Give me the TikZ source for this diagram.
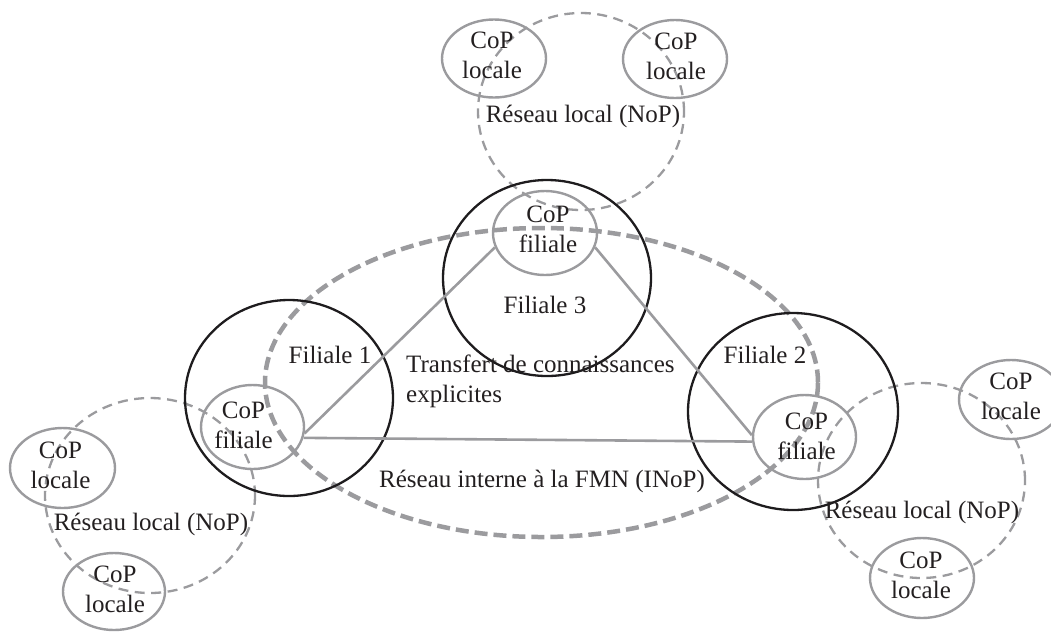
\documentclass[tikz,border=0pt]{standalone}
\usepackage{fontspec}
\setmainfont{Liberation Serif}
\usetikzlibrary{shapes.geometric,calc}
\definecolor{grayline}{RGB}{155,155,158}
\definecolor{blackline}{RGB}{30,28,30}
\definecolor{txtcol}{RGB}{35,31,32}
\tikzset{
  txt/.style={font=\fontsize{25pt}{30pt}\selectfont, text=txtcol, inner sep=0pt, align=center},
  cop/.style={ellipse, draw=grayline, line width=2.4pt, inner sep=0pt, minimum width=104pt, minimum height=80pt},
  filiale/.style={ellipse, draw=blackline, line width=2.3pt, inner sep=0pt},
  nop/.style={ellipse, draw=grayline, line width=2.3pt, dash pattern=on 10pt off 6.5pt, inner sep=0pt},
  inop/.style={ellipse, draw=grayline, line width=4.5pt, dash pattern=on 13pt off 6pt, inner sep=0pt},
  link/.style={draw=grayline, line width=2.6pt}
}
\begin{document}
\begin{tikzpicture}[x=1pt,y=-1pt]
\clip (0,0) rectangle (1051,633);
% big internal network
\node[inop, minimum width=553pt, minimum height=309pt] (inop) at (541.5,382.5) {};
% local networks
\node[nop, minimum width=206pt, minimum height=197pt] (noptop) at (581,111.5) {};
\node[nop, minimum width=210pt, minimum height=195pt] (nopleft) at (150,495.5) {};
\node[nop, minimum width=207pt, minimum height=195pt] (nopright) at (921.5,480.5) {};
% subsidiaries
\node[filiale, minimum width=208pt, minimum height=196pt] (f3) at (547,278) {};
\node[filiale, minimum width=208pt, minimum height=196pt] (f1) at (289,398) {};
\node[filiale, minimum width=210pt, minimum height=197pt] (f2) at (793,411.5) {};
% CoP filiale
\node[cop, minimum width=104pt, minimum height=84pt] (ct) at (545,233) {};
\node[cop, minimum width=103pt, minimum height=84pt] (cf1) at (252.5,427) {};
\node[cop, minimum width=103pt, minimum height=84pt] (cf2) at (804.5,437) {};
% CoP locale
\node[cop, minimum height=78pt] (lt1) at (494,58.5) {};
\node[cop, minimum height=78pt] (lt2) at (675,59) {};
\node[cop, minimum width=105pt] (ll1) at (62.5,468) {};
\node[cop, minimum width=102pt, minimum height=77pt] (ll2) at (114,591.5) {};
\node[cop, minimum height=79pt] (lr1) at (1011,399.5) {};
\node[cop] (lr2) at (922,578) {};
% links
\draw[link] (cf1.-7) -- (ct.196);
\draw[link] (ct.-16) -- (cf2.178);
\draw[link] (cf1.-12) -- (cf2.185);
% texts
\node[txt] (tct) at ($(ct)+(3,-4)$) {CoP\\filiale};
\node[txt] (tcf1) at ($(cf1)+(-9,-2)$) {CoP\\filiale};
\node[txt] (tcf2) at ($(cf2)+(2,-1)$) {CoP\\filiale};
\node[txt] (tlt1) at ($(lt1)+(-2,-3)$) {CoP\\locale};
\node[txt] (tlt2) at ($(lt2)+(1,-3)$) {CoP\\locale};
\node[txt] (tll1) at ($(ll1)+(-2,-3)$) {CoP\\locale};
\node[txt] (tll2) at ($(ll2)+(1,-2)$) {CoP\\locale};
\node[txt] (tlr1) at ($(lr1)+(0,-3)$) {CoP\\locale};
\node[txt] (tlr2) at ($(lr2)+(-1,-3)$) {CoP\\locale};
\node[txt] (lf3) at (545,305) {Filiale 3};
\node[txt] (lf1) at (330,355) {Filiale 1};
\node[txt] (lf2) at (765,355) {Filiale 2};
\node[txt] (lnopt) at (583,116) {Réseau local (NoP)};
\node[txt] (lnopl) at (151,524) {Réseau local (NoP)};
\node[txt] (lnopr) at (922,512) {Réseau local (NoP)};
\node[txt] (linop) at (542,481) {Réseau interne à la FMN (INoP)};
\node[txt, align=left, anchor=base west] (ltr) at (406,402) {Transfert de connaissances\\explicites};
\end{tikzpicture}
\end{document}
